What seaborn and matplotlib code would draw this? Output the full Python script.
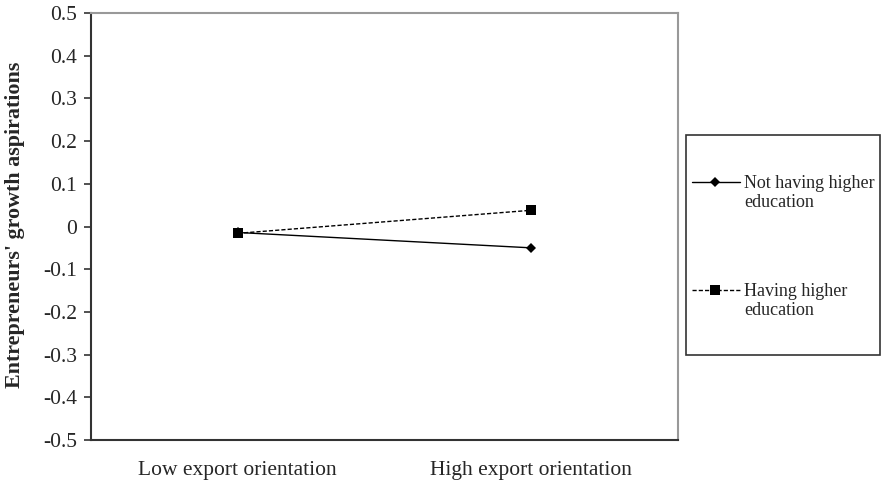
import matplotlib
matplotlib.use("Agg")
import matplotlib.pyplot as plt
import seaborn as sns
import pandas as pd
from matplotlib.lines import Line2D
from matplotlib.patches import Rectangle

categories = ["Low export orientation", "High export orientation"]
not_higher = [-0.014, -0.050]
higher = [-0.016, 0.038]
series_names = ["Not having higher\neducation", "Having higher\neducation"]
y_ticks = [0.5, 0.4, 0.3, 0.2, 0.1, 0, -0.1, -0.2, -0.3, -0.4, -0.5]
y_label = "Entrepreneurs' growth aspirations"

sns.set_style("white")
plt.rcParams['font.family'] = ['Liberation Serif', 'DejaVu Serif']

rows = []
for i, c in enumerate(categories):
    rows.append({"x": i, "y": not_higher[i], "series": series_names[0]})
    rows.append({"x": i, "y": higher[i], "series": series_names[1]})
df = pd.DataFrame(rows)

W, H = 881, 482
fig = plt.figure(figsize=(W / 100, H / 100), dpi=100)
ax = fig.add_axes([91 / W, (H - 440) / H, (678 - 91) / W, (440 - 13) / H])

sns.lineplot(data=df, x="x", y="y", style="series",
             markers={series_names[0]: "D", series_names[1]: "s"},
             dashes={series_names[0]: "", series_names[1]: (3, 1.5)},
             color="black", linewidth=1.0, markersize=6, markeredgewidth=0,
             legend=False, ax=ax)
for ln, ms in zip(ax.lines, [5, 7]):
    ln.set_markersize(ms)

ax.set_xlim(-0.5, 1.5)
ax.set_ylim(-0.5, 0.5)
ax.set_xticks([0, 1])
ax.set_xticklabels(categories, fontsize=15.5)
ax.set_xticks([-0.5, 0.5, 1.5], minor=True)
ax.tick_params(axis="x", which="major", length=0, pad=15)
ax.tick_params(axis="x", which="minor", length=5, width=1.2, color="#333333", direction="out")
ax.set_yticks(y_ticks)
ax.set_yticklabels([f"{v:g}" for v in y_ticks], fontsize=15.5)
ax.tick_params(axis="y", which="major", length=5, width=1.2, color="#333333",
               direction="out", left=True, pad=5)
ax.set_xlabel("")
ax.set_ylabel(y_label, fontsize=15.8, fontweight="bold")
ax.yaxis.set_label_coords((25 - 91) / (678 - 91), 0.505)

for s in ["left", "bottom"]:
    ax.spines[s].set_color("#333333")
    ax.spines[s].set_linewidth(1.5)
for s in ["top", "right"]:
    ax.spines[s].set_color("#999999")
    ax.spines[s].set_linewidth(1.5)

# legend frame
fig.add_artist(Rectangle((686 / W, (H - 355) / H), (880 - 686) / W, (355 - 135) / H,
                         transform=fig.transFigure, fill=False,
                         edgecolor="#333333", linewidth=1.2))
# legend entries (handle aligned with first line of text, as in the reference)
legend_rows = [(182, "D", 5, "-"), (290, "s", 7, (0, (3, 1.5)))]
for (yc, mk, ms, ls), name in zip(legend_rows, series_names):
    yf = (H - yc) / H
    fig.add_artist(Line2D([692 / W, 740 / W], [yf, yf], transform=fig.transFigure,
                          color="black", lw=1.0, ls=ls))
    fig.add_artist(Line2D([715 / W], [yf], transform=fig.transFigure,
                          color="black", marker=mk, markersize=ms, markeredgewidth=0,
                          ls="none"))
    fig.text(744 / W, (H - yc + 7) / H, name, fontsize=13, va="top", ha="left",
             linespacing=1.12)

fig.savefig("out.png", dpi=100)
